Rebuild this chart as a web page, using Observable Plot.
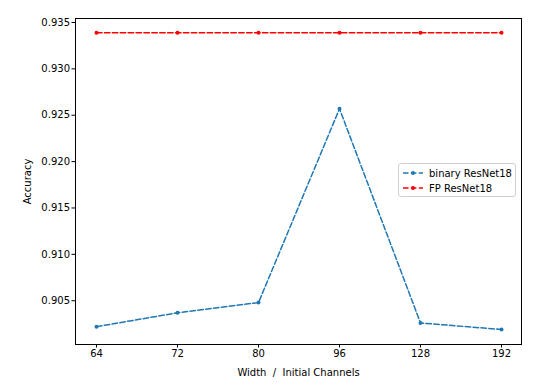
<!DOCTYPE html>
<html>
<head>
<meta charset="utf-8">
<script src="https://cdn.jsdelivr.net/npm/d3@7"></script>
<script src="https://cdn.jsdelivr.net/npm/@observablehq/plot@0.6"></script>
<style>
  body { margin: 0; background: #fff; }
  #wrap { position: relative; width: 560px; height: 387px; font-family: "DejaVu Sans", sans-serif; }
  .legend { position: absolute; left: 398px; top: 163px; width: 116px; height: 32px; border: 1px solid #d0d0d0; border-radius: 3px; background: rgba(255,255,255,0.8); font-size: 10px; color: #000; }
  .legend .row { position: absolute; left: 0; height: 14px; display: flex; align-items: center; }
  .legend svg { margin-left: 4px; margin-right: 6px; }
</style>
</head>
<body>
<div id="wrap"></div>
<script>
const widths = ["64", "72", "80", "96", "128", "192"];
const binaryAcc = [0.9022, 0.9037, 0.9048, 0.9257, 0.9026, 0.9019];
const fpAcc = [0.9339, 0.9339, 0.9339, 0.9339, 0.9339, 0.9339];
const yTicks = [0.905, 0.910, 0.915, 0.920, 0.925, 0.930, 0.935];
const seriesNames = ["binary ResNet18", "FP ResNet18"];
const seriesColors = ["#1f77b4", "#ff0000"];

const binary = widths.map((w, i) => ({w, v: binaryAcc[i]}));
const fp = widths.map((w, i) => ({w, v: fpAcc[i]}));

const chart = Plot.plot({
  width: 560,
  height: 387,
  marginLeft: 75,
  marginRight: 39,
  marginTop: 18,
  marginBottom: 43,
  style: {fontFamily: "DejaVu Sans, sans-serif", fontSize: "10px", color: "#000", background: "#fff"},
  x: {type: "point", domain: widths, padding: 0.246, align: 0.5},
  y: {domain: [0.90028, 0.93543]},
  marks: [
    Plot.frame({stroke: "#000", strokeWidth: 1}),
    Plot.axisX({ticks: widths, tickSize: 3.5, tickPadding: 2, label: "Width  /  Initial Channels", labelAnchor: "center", labelArrow: "none", labelOffset: 31, fill: "#000"}),
    Plot.axisY({ticks: yTicks, tickSize: 3.5, tickPadding: 2, tickFormat: d3.format(".3f"), label: "Accuracy", labelAnchor: "center", labelArrow: "none", labelOffset: 52, fill: "#000"}),
    Plot.line(binary, {x: "w", y: "v", stroke: seriesColors[0], strokeWidth: 1.5, strokeDasharray: "5.5,2.4"}),
    Plot.dot(binary, {x: "w", y: "v", fill: seriesColors[0], r: 2}),
    Plot.line(fp, {x: "w", y: "v", stroke: seriesColors[1], strokeWidth: 1.5, strokeDasharray: "5.5,2.4"}),
    Plot.dot(fp, {x: "w", y: "v", fill: seriesColors[1], r: 2})
  ]
});
const wrap = document.getElementById("wrap");
wrap.appendChild(chart);

const legend = document.createElement("div");
legend.className = "legend";
seriesNames.forEach((name, i) => {
  const row = document.createElement("div");
  row.className = "row";
  row.style.top = (2 + i * 15) + "px";
  const c = seriesColors[i];
  row.innerHTML = `<svg width="20" height="6"><line x1="0" y1="3" x2="20" y2="3" stroke="${c}" stroke-width="1.5" stroke-dasharray="5.5,2.4"/><circle cx="10" cy="3" r="2" fill="${c}"/></svg><span>${name}</span>`;
  legend.appendChild(row);
});
wrap.appendChild(legend);
</script>
</body>
</html>
